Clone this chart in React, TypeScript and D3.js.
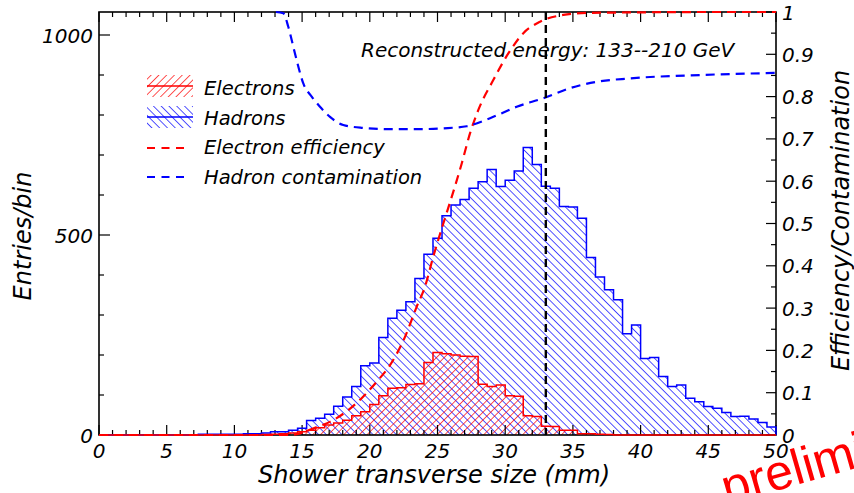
import React from "react";
import * as d3 from "d3";

const W = 854;
const H = 493;

// Histogram binning: 75 bins over 0..50 mm
const xDomain = [0, 50];
const nBins = 75;

const hadronCounts = [
  0, 0, 0, 0, 0, 0, 0, 0, 0, 0,
  0, 2, 2, 2, 2, 2, 3, 3, 5, 8,
  8, 12, 17, 36, 42, 52, 72, 95, 121, 173,
  180, 244, 292, 312, 333, 391, 452, 492, 548, 575,
  589, 617, 633, 664, 621, 637, 660, 719, 676, 622,
  617, 571, 570, 542, 444, 395, 363, 338, 253, 275,
  191, 194, 146, 121, 125, 92, 83, 71, 67, 56,
  46, 47, 40, 31, 20,
];

const electronCounts = [
  0, 0, 0, 0, 0, 0, 0, 0, 0, 0,
  0, 0, 0, 0, 0, 0, 0, 0, 1, 2,
  3, 5, 8, 12, 18, 25, 30, 37, 48, 58,
  76, 98, 117, 118, 126, 128, 181, 206, 203, 200,
  197, 196, 127, 121, 125, 98, 97, 48, 46, 22,
  21, 12, 12, 3, 3, 2, 1, 0, 0, 0,
  0, 0, 0, 0, 0, 0, 0, 0, 0, 0,
  0, 0, 0, 0, 0,
];

const effX = [0, 5, 10, 14, 14.85, 15.95, 17.06, 18.41, 19.52, 20.51, 21.49, 22.6, 23.46, 24.08, 24.69, 25.43, 26.05, 26.79, 27.4, 28.01, 29.12, 30.23, 31.34, 32.57, 34.29, 36.26, 39.2, 45, 50];
const effY = [0, 0, 0, 0, 0.004, 0.017, 0.031, 0.059, 0.091, 0.126, 0.165, 0.232, 0.303, 0.351, 0.422, 0.5, 0.563, 0.642, 0.713, 0.768, 0.839, 0.902, 0.95, 0.977, 0.993, 0.998, 0.999, 1, 1];

const contX = [13.07, 13.61, 13.98, 14.35, 14.72, 15.09, 15.71, 16.32, 17.06, 18.04, 19.52, 21.49, 23.46, 25.43, 27.16, 28.88, 30.85, 32.81, 34.79, 36.76, 39.2, 44.37, 50];
const contY = [1, 0.997, 0.965, 0.918, 0.871, 0.831, 0.8, 0.776, 0.752, 0.733, 0.726, 0.723, 0.723, 0.725, 0.73, 0.749, 0.776, 0.796, 0.82, 0.835, 0.843, 0.851, 0.856];

const cutValue = 33.0;

const xMajorTicks = [0, 5, 10, 15, 20, 25, 30, 35, 40, 45, 50];
const xMinorTicks = d3.range(0, 51, 1);
const yLeftMajorTicks = [0, 500, 1000];
const yLeftMinorTicks = d3.range(0, 1001, 100);
const yRightMajorTicks = [0, 0.1, 0.2, 0.3, 0.4, 0.5, 0.6, 0.7, 0.8, 0.9, 1];
const yRightMinorTicks = d3.range(0, 21).map((i) => i * 0.05);
const yRightTickLabels = ["0", "0.1", "0.2", "0.3", "0.4", "0.5", "0.6", "0.7", "0.8", "0.9", "1"];

const legendItems = ["Electrons", "Hadrons", "Electron efficiency", "Hadron contamination"];

const FONT = "'DejaVu Sans', sans-serif";

export default function App() {
  const left = 99, right = 776, top = 12, bottom = 435;
  const x = d3.scaleLinear().domain(xDomain).range([left, right]);
  const yL = d3.scaleLinear().domain([0, 1057.5]).range([bottom, top]);
  const yR = d3.scaleLinear().domain([0, 1]).range([bottom, top]);
  const binW = (xDomain[1] - xDomain[0]) / nBins;

  const stepPoints = (counts: number[]) => {
    const pts: [number, number][] = [];
    pts.push([x(0), yL(0)]);
    counts.forEach((c, i) => {
      pts.push([x(i * binW), yL(c)]);
      pts.push([x((i + 1) * binW), yL(c)]);
    });
    pts.push([x(50), yL(0)]);
    return pts;
  };
  const line = d3.line();
  const hadPath = line(stepPoints(hadronCounts)) as string;
  const elPath = line(stepPoints(electronCounts)) as string;

  const curve = d3
    .line<[number, number]>()
    .x((d) => x(d[0]))
    .y((d) => yR(d[1]))
    .curve(d3.curveMonotoneX);
  const effPath = curve(effX.map((v, i) => [v, effY[i]])) as string;
  const contPath = curve(contX.map((v, i) => [v, contY[i]])) as string;

  const legendX = 147;
  const legendRows = [86, 117, 148, 177];
  const legendTextY = [95, 124.5, 153.5, 183.5];

  return (
    <div style={{ position: "fixed", left: 0, top: 0, width: W, height: H, background: "#fff" }}>
      <svg width={W} height={H} style={{ display: "block" }}>
        <defs>
          <pattern id="hatchBlue" patternUnits="userSpaceOnUse" width={5.5} height={5.5} patternTransform="rotate(-45)">
            <line x1={0} y1={0} x2={0} y2={5.5} stroke="#0000ff" strokeWidth={1.35} />
          </pattern>
          <pattern id="hatchRed" patternUnits="userSpaceOnUse" width={5.5} height={5.5} patternTransform="rotate(45)">
            <line x1={0} y1={0} x2={0} y2={5.5} stroke="#ff0000" strokeWidth={1.35} />
          </pattern>
        </defs>
        <rect x={0} y={0} width={W} height={H} fill="#fff" />

        {/* histogram fills */}
        <path d={hadPath + "Z"} fill="url(#hatchBlue)" stroke="none" />
        <path d={elPath + "Z"} fill="url(#hatchRed)" stroke="none" />

        {/* frame */}
        <rect x={left} y={top} width={right - left} height={bottom - top} fill="none" stroke="#000" strokeWidth={1.6} />

        {/* x ticks bottom & top */}
        {xMinorTicks.map((t) => {
          const len = t % 5 === 0 ? 10 : 5;
          return (
            <g key={"xt" + t}>
              <line x1={x(t)} x2={x(t)} y1={bottom} y2={bottom - len} stroke="#000" strokeWidth={1.2} />
              <line x1={x(t)} x2={x(t)} y1={top} y2={top + len} stroke="#000" strokeWidth={1.2} />
            </g>
          );
        })}
        {/* left y ticks */}
        {yLeftMinorTicks.map((t) => {
          const len = t % 500 === 0 ? 11 : 5;
          return <line key={"yl" + t} x1={left} x2={left + len} y1={yL(t)} y2={yL(t)} stroke="#000" strokeWidth={1.2} />;
        })}
        {/* right y ticks */}
        {yRightMinorTicks.map((t, i) => {
          const len = i % 2 === 0 ? 10 : 5;
          return <line key={"yr" + i} x1={right} x2={right - len} y1={yR(t)} y2={yR(t)} stroke="#000" strokeWidth={1.2} />;
        })}

        {/* histogram outlines */}
        <path d={hadPath} fill="none" stroke="#0000ff" strokeWidth={1.5} />
        <path d={elPath} fill="none" stroke="#ff0000" strokeWidth={1.5} />

        {/* curves */}
        <path d={effPath} fill="none" stroke="#ff0000" strokeWidth={2.2} strokeDasharray="9,6" />
        <path d={contPath} fill="none" stroke="#0000ff" strokeWidth={2.2} strokeDasharray="9,6" />

        {/* cut line */}
        <line x1={x(cutValue)} x2={x(cutValue)} y1={top} y2={bottom} stroke="#000" strokeWidth={2.4} strokeDasharray="8,5" />

        {/* tick labels */}
        <g fontFamily={FONT} fontStyle="italic" fontSize={20} fill="#000">
          {xMajorTicks.map((t) => (
            <text key={"xl" + t} x={x(t)} y={458} textAnchor="middle">{String(t)}</text>
          ))}
          {yLeftMajorTicks.map((t) => (
            <text key={"yll" + t} x={93} y={yL(t) + 7.5} textAnchor="end">{String(t)}</text>
          ))}
          {yRightMajorTicks.map((t, i) => (
            <text key={"yrl" + i} x={782} y={yR(t) + 7.5} textAnchor="start">{yRightTickLabels[i]}</text>
          ))}
        </g>

        {/* axis titles */}
        <g fontFamily={FONT} fontStyle="italic" fontSize={24} fill="#000">
          <text x={258} y={483}>Shower transverse size (mm)</text>
          <text transform="translate(31,236) rotate(-90)" textAnchor="middle">Entries/bin</text>
          <text transform="translate(849,220.5) rotate(-90)" textAnchor="middle">Efficiency/Contamination</text>
        </g>

        {/* annotation */}
        <text x={361} y={57} fontFamily={FONT} fontStyle="italic" fontSize={20} fill="#000">
          Reconstructed energy: 133--210 GeV
        </text>

        {/* legend */}
        <g>
          <rect x={legendX} y={legendRows[0] - 11} width={46} height={22} fill="url(#hatchRed)" />
          <line x1={legendX} x2={legendX + 46} y1={legendRows[0]} y2={legendRows[0]} stroke="#ff0000" strokeWidth={1.3} />
          <rect x={legendX} y={legendRows[1] - 11} width={46} height={22} fill="url(#hatchBlue)" />
          <line x1={legendX} x2={legendX + 46} y1={legendRows[1]} y2={legendRows[1]} stroke="#0000ff" strokeWidth={1.3} />
          <line x1={legendX} x2={legendX + 40} y1={legendRows[2]} y2={legendRows[2]} stroke="#ff0000" strokeWidth={2.2} strokeDasharray="8,6.5" />
          <line x1={legendX} x2={legendX + 40} y1={legendRows[3]} y2={legendRows[3]} stroke="#0000ff" strokeWidth={2.2} strokeDasharray="8,6.5" />
          <g fontFamily={FONT} fontStyle="italic" fontSize={19.5} fill="#000">
            {legendItems.map((s, i) => (
              <text key={s} x={204} y={legendTextY[i]}>{s}</text>
            ))}
          </g>
        </g>

        {/* preliminary stamp */}
        <text transform="translate(727,505) rotate(-16)" fontFamily="'Liberation Sans', Arial, sans-serif" fontSize={50} fill="#ff0000">
          preliminary
        </text>
      </svg>
    </div>
  );
}
